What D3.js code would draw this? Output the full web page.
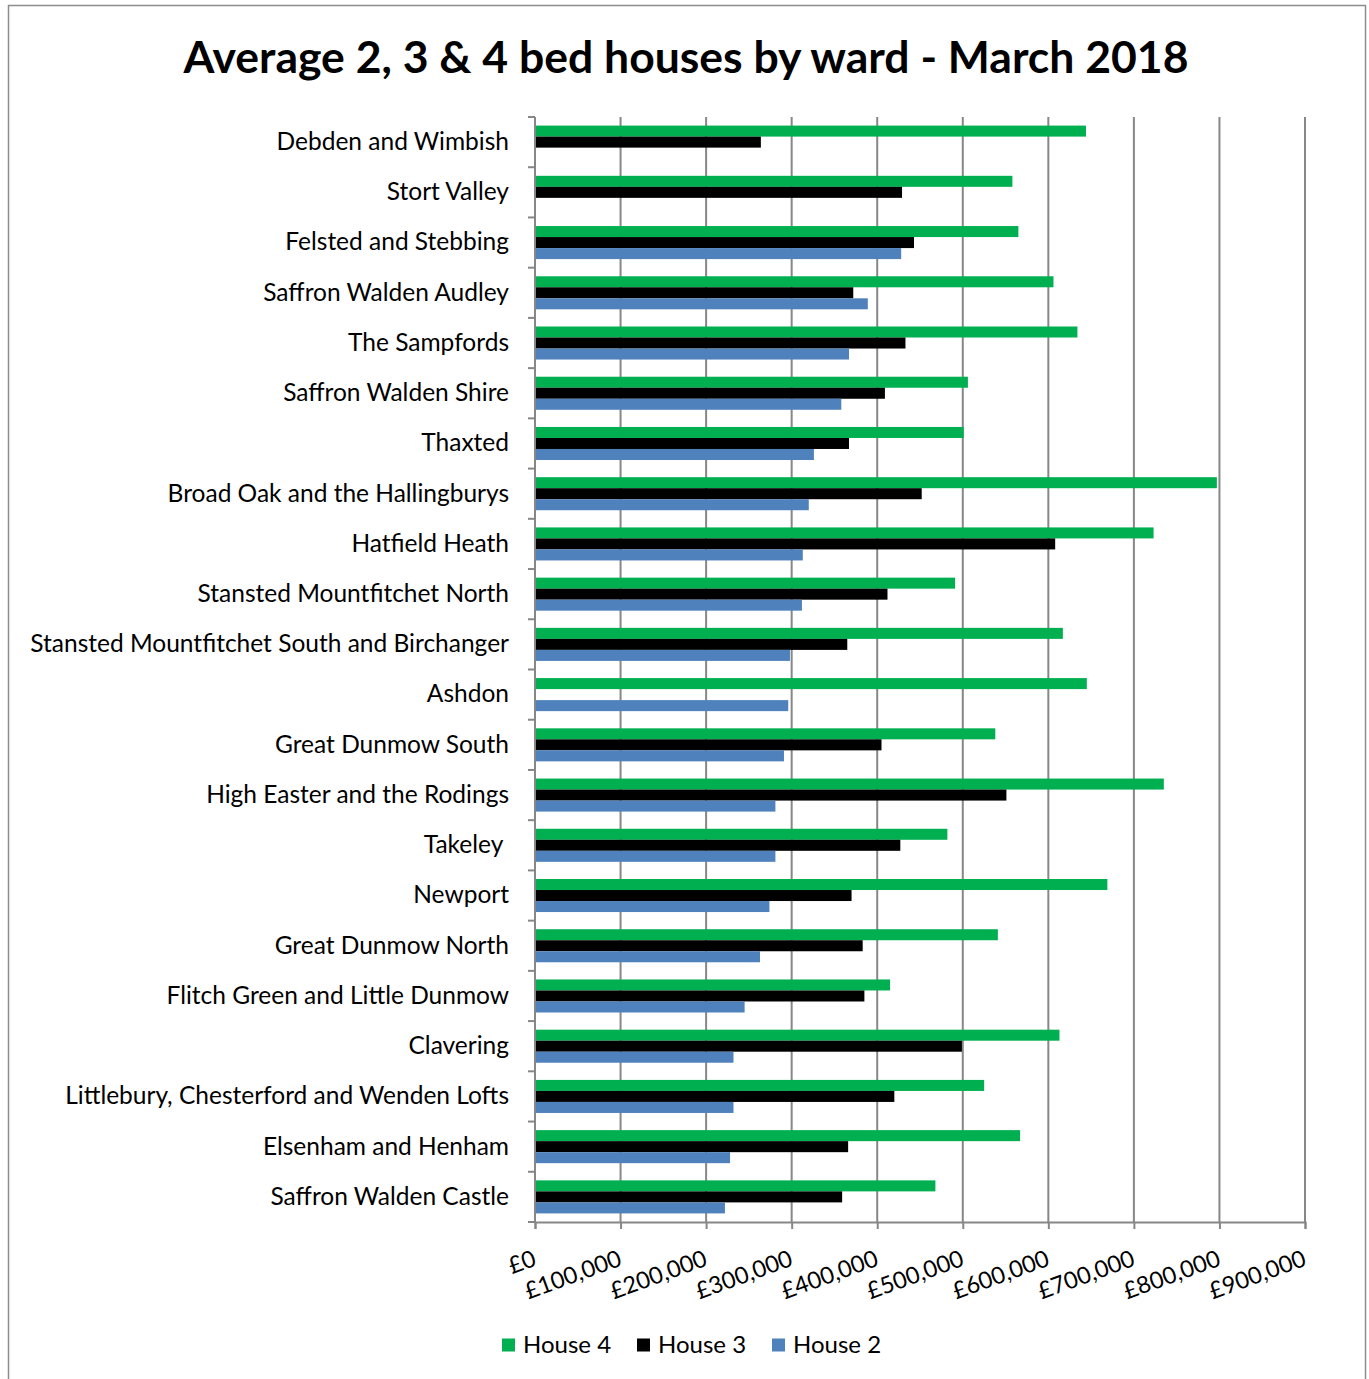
<!DOCTYPE html>
<html>
<head>
<meta charset="utf-8">
<script src="https://cdn.jsdelivr.net/npm/d3@7/dist/d3.min.js"></script>
<style>
  html, body { margin: 0; padding: 0; background: #fff; }
  svg { display: block; font-family: Lato, "Open Sans", sans-serif; }
  text { white-space: pre; }
</style>
</head>
<body>
<svg id="chart" width="1369" height="1379"></svg>
<script>
// Ward names, top to bottom
const wards = [
  "Debden and Wimbish",
  "Stort Valley",
  "Felsted and Stebbing",
  "Saffron Walden Audley",
  "The Sampfords",
  "Saffron Walden Shire",
  "Thaxted",
  "Broad Oak and the Hallingburys",
  "Hatfield Heath",
  "Stansted Mountfitchet North",
  "Stansted Mountfitchet South and Birchanger",
  "Ashdon",
  "Great Dunmow South",
  "High Easter and the Rodings",
  "Takeley ",
  "Newport",
  "Great Dunmow North",
  "Flitch Green and Little Dunmow",
  "Clavering",
  "Littlebury, Chesterford and Wenden Lofts",
  "Elsenham and Henham",
  "Saffron Walden Castle"
];

// Average prices (£); null where no figure is available
const house4 = [644000, 558000, 565000, 606000, 634000, 506000, 501000, 797000, 723000, 491000, 617000,
                645000, 538000, 735000, 482000, 669000, 541000, 415000, 613000, 525000, 567000, 468000];
const house3 = [264000, 429000, 443000, 372000, 433000, 409000, 367000, 452000, 608000, 412000, 365000,
                null,   405000, 551000, 427000, 370000, 383000, 385000, 499000, 420000, 366000, 359000];
const house2 = [null,   null,   428000, 389000, 367000, 358000, 326000, 320000, 313000, 312000, 298000,
                296000, 291000, 281000, 281000, 274000, 263000, 245000, 232000, 232000, 228000, 222000];

const seriesNames = ["House 4", "House 3", "House 2"];
const seriesColors = ["#00B050", "#000000", "#4F81BD"];
const xTicks = [0, 100000, 200000, 300000, 400000, 500000, 600000, 700000, 800000, 900000];
const chartTitle = "Average 2, 3 & 4 bed houses by ward - March 2018";

const seriesValues = [house4, house3, house2];

const svg = d3.select("#chart");
const plot = { left: 535, right: 1305, top: 117, bottom: 1222 };
const gridColor = "#878787";

// Outer chart frame
svg.append("rect")
  .attr("x", 8.5).attr("y", 5.5)
  .attr("width", 1357).attr("height", 1400)
  .attr("fill", "none").attr("stroke", "#8c8c8c").attr("stroke-width", 1.5);

// Title
svg.append("text")
  .attr("x", 686).attr("y", 73)
  .attr("text-anchor", "middle")
  .attr("font-size", 44.5).attr("font-weight", 700)
  .attr("fill", "#000")
  .text(chartTitle);

const x = d3.scaleLinear().domain([0, 900000]).range([plot.left, plot.right]);
const y = d3.scaleBand().domain(wards).range([plot.top, plot.bottom]).padding(0);
const ySub = d3.scaleBand().domain(seriesNames).range([0, y.bandwidth()]).paddingOuter(0.78).paddingInner(0);

// Vertical gridlines
svg.append("g").selectAll("line")
  .data(xTicks.slice(1))
  .join("line")
  .attr("x1", d => x(d)).attr("x2", d => x(d))
  .attr("y1", plot.top).attr("y2", plot.bottom)
  .attr("stroke", gridColor).attr("stroke-width", 2);

// Bars
const rows = wards.map((w, i) => ({ ward: w, values: seriesNames.map((s, k) => ({ series: s, k, value: seriesValues[k][i] })) }));
svg.append("g").selectAll("g")
  .data(rows)
  .join("g")
  .attr("transform", d => `translate(0,${y(d.ward)})`)
  .selectAll("rect")
  .data(d => d.values.filter(v => v.value != null))
  .join("rect")
  .attr("x", x(0))
  .attr("y", d => ySub(d.series))
  .attr("width", d => x(d.value) - x(0))
  .attr("height", ySub.bandwidth())
  .attr("fill", d => seriesColors[d.k]);

// Category axis: line, boundary ticks and labels
const yAxisG = svg.append("g");
yAxisG.append("line")
  .attr("x1", plot.left).attr("x2", plot.left)
  .attr("y1", plot.top).attr("y2", plot.bottom)
  .attr("stroke", gridColor).attr("stroke-width", 2);
yAxisG.selectAll("line.bound")
  .data(wards.map(w => y(w)).concat([plot.bottom]))
  .join("line")
  .attr("class", "bound")
  .attr("x1", plot.left - 7).attr("x2", plot.left)
  .attr("y1", d => d).attr("y2", d => d)
  .attr("stroke", gridColor).attr("stroke-width", 2);

const yAxis = d3.axisLeft(y).tickSize(0).tickPadding(26);
const yg = svg.append("g").attr("transform", `translate(${plot.left},0)`).call(yAxis);
yg.select(".domain").remove();
yg.selectAll("text")
  .attr("font-size", 24.5).attr("fill", "#000")
  .attr("font-family", "Lato, sans-serif");

// Value axis
const xAxis = d3.axisBottom(x)
  .tickValues(xTicks)
  .tickSize(7)
  .tickPadding(0)
  .tickFormat(d => "£" + d3.format(",")(d));
const xg = svg.append("g").attr("transform", `translate(0,${plot.bottom})`).call(xAxis);
xg.select(".domain").attr("stroke", gridColor).attr("stroke-width", 2);
xg.selectAll(".tick line").attr("stroke", gridColor).attr("stroke-width", 2);
xg.selectAll("text")
  .attr("font-size", 23.5).attr("fill", "#000")
  .attr("font-family", "Lato, sans-serif")
  .attr("text-anchor", "end")
  .attr("dy", 0)
  .attr("transform", "translate(2,43) rotate(-20)")
  .attr("y", 0).attr("x", 0);

// Legend
const legend = svg.append("g").attr("transform", "translate(502,1345)");
const legendX = [0, 135, 270];
seriesNames.forEach((s, k) => {
  const g = legend.append("g").attr("transform", `translate(${legendX[k]},0)`);
  g.append("rect").attr("x", 0).attr("y", -6.5).attr("width", 13).attr("height", 13).attr("fill", seriesColors[k]);
  g.append("text").attr("x", 21).attr("y", 0).attr("dy", "0.35em")
    .attr("font-size", 24).attr("fill", "#000").text(s);
});
</script>
</body>
</html>
